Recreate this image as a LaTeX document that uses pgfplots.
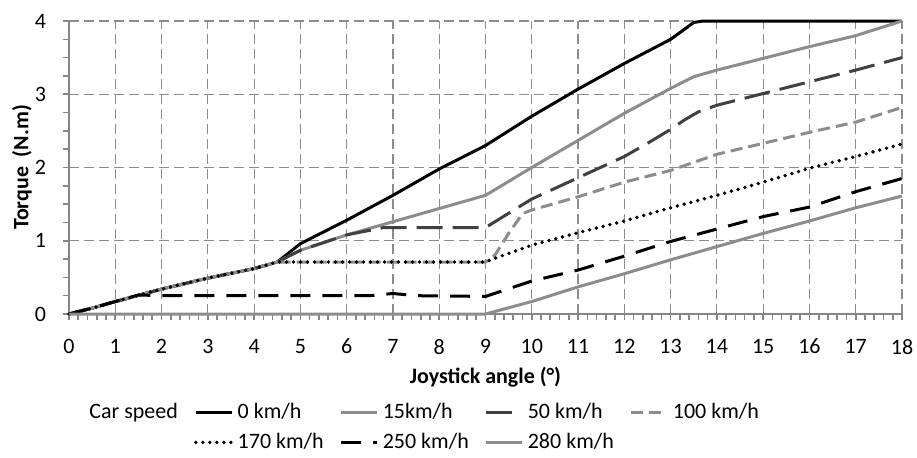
\documentclass[border=0pt]{standalone}
\usepackage{pgfplots}
\pgfplotsset{compat=1.18}
\usepackage{fontspec}
\setmainfont{Carlito}
\definecolor{lgray}{RGB}{140,140,140}
\definecolor{dgray}{RGB}{64,64,64}
\definecolor{gridgray}{RGB}{140,140,140}
\definecolor{axgray}{RGB}{134,134,134}
\begin{document}
\begin{tikzpicture}
\useasboundingbox (-34.5pt,-71.5pt) rectangle (424pt,157pt);
\begin{axis}[
  at={(0,0)}, anchor=south west,
  scale only axis,
  width=416.5pt, height=146.5pt,
  xmin=0, xmax=18, ymin=0, ymax=4,
  xtick distance=1, ytick distance=1,
  minor x tick num=4, minor y tick num=3,
  axis x line*=bottom, axis y line*=left,
  axis line style={axgray, line width=1pt, -},
  tick style={axgray, line width=0.8pt},
  major tick length=3pt, minor tick length=3pt,
  tick align=outside,
  grid=major,
  major grid style={gridgray, line width=0.6pt, dash pattern=on 5pt off 2.5pt},
  /pgf/number format/assume math mode=true,
  font=\fontsize{11}{13}\selectfont,
  ticklabel style={font=\fontsize{11}{13}\selectfont},
  xticklabel style={anchor=center, yshift=-13.3pt},
  yticklabel style={anchor=east, xshift=-5pt},
  xlabel={\textbf{Joystick angle (°)}},
  ylabel={\textbf{Torque\ \ (N.m)}},
  xlabel style={at={(axis description cs:0.5,-0.215)}, anchor=center},
  ylabel style={at={(axis description cs:-0.0564,0.5)}, anchor=center},
  clip=false,
  legend columns=5,
  legend style={draw=none, fill=none, at={(0.012,-0.275)}, anchor=north west,
    font=\fontsize{11}{13}\selectfont, row sep=2pt,
    /tikz/every even column/.append style={column sep=6pt},
    /tikz/column 2/.append style={column sep=5.5pt}},
  legend cell align=left,
  legend image code/.code={\draw[#1] (0pt,0pt) -- (18pt,0pt);},
]
\addlegendimage{empty legend}
\addlegendentry{Car speed}

\addplot[black, line width=1.5pt] coordinates {
(0,0)(0.5,0.08)(1,0.17)(2,0.34)(3,0.49)(4,0.62)(4.5,0.71)(5,0.96)(6,1.28)(7,1.62)(8,1.98)(9,2.3)(10,2.7)(11,3.07)(12,3.42)(13,3.75)(13.5,3.98)(13.7,4)(18,4)};
\addlegendentry{0 km/h}

\addplot[lgray, line width=1.5pt] coordinates {
(0,0)(0.5,0.08)(1,0.17)(2,0.34)(3,0.49)(4,0.62)(4.5,0.71)(5,0.87)(6,1.08)(7,1.26)(8,1.44)(9,1.62)(10,2.0)(11,2.37)(12,2.74)(13,3.08)(13.5,3.24)(14,3.33)(15,3.49)(16,3.65)(17,3.8)(18,4.0)};
\addlegendentry{15km/h}

\addplot[dgray, line width=1.5pt, dash pattern=on 13pt off 5pt] coordinates {
(0,0)(0.5,0.08)(1,0.17)(2,0.34)(3,0.49)(4,0.62)(4.5,0.71)(5,0.87)(6,1.08)(6.8,1.18)(9,1.18)(10,1.57)(11,1.86)(12,2.15)(12.5,2.33)(13,2.52)(13.3,2.65)(13.6,2.76)(14,2.85)(15,3.01)(16,3.17)(17,3.33)(18,3.5)};
\addlegendentry{50 km/h}

\addplot[lgray, line width=1.5pt, dash pattern=on 6pt off 3pt] coordinates {
(0,0)(0.5,0.08)(1,0.17)(2,0.34)(3,0.49)(4,0.62)(4.5,0.71)(9,0.71)(9.2,0.8)(9.5,1.1)(9.8,1.37)(10,1.42)(11,1.6)(12,1.8)(13,1.96)(14,2.18)(15,2.33)(16,2.48)(17,2.62)(18,2.82)};
\addlegendentry{100 km/h}

\addlegendimage{empty legend}
\addlegendentry{}

\addplot[black, line width=1.9pt, line cap=round, dash pattern=on 0pt off 3.5pt] coordinates {
(0,0)(0.5,0.08)(1,0.17)(2,0.34)(3,0.49)(4,0.62)(4.5,0.71)(9,0.71)(9.2,0.76)(10,0.94)(11,1.11)(12,1.27)(13,1.45)(14,1.62)(15,1.8)(16,1.99)(17,2.15)(18,2.32)};
\addlegendentry{170 km/h}

\addplot[black, line width=1.5pt, dash pattern=on 10pt off 6pt] coordinates {
(0,0)(0.5,0.08)(1,0.17)(1.5,0.26)(2,0.25)(6.5,0.25)(7,0.28)(7.5,0.25)(9,0.24)(10,0.45)(11,0.6)(12,0.79)(13,0.99)(14,1.16)(15,1.33)(16,1.46)(17,1.67)(18,1.85)};
\addlegendentry{250 km/h}

\addplot[lgray, line width=1.5pt] coordinates {
(0,0)(9,0)(10,0.17)(11,0.37)(12,0.55)(13,0.74)(14,0.92)(15,1.1)(16,1.27)(17,1.45)(18,1.61)};
\addlegendentry{280 km/h}
\end{axis}
\end{tikzpicture}
\end{document}
